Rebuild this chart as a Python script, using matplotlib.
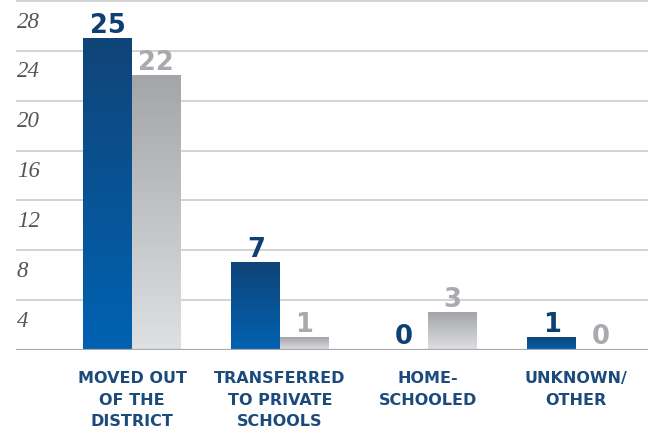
import numpy as np
import matplotlib
matplotlib.use('Agg')
import matplotlib.pyplot as plt
from matplotlib.colors import LinearSegmentedColormap
import matplotlib.transforms as mtrans

# datos
categorias = ['MOVED OUT\nOF THE\nDISTRICT', 'TRANSFERRED\nTO PRIVATE\nSCHOOLS',
              'HOME-\nSCHOOLED', 'UNKNOWN/\nOTHER']
serie_azul = [25, 7, 0, 1]
serie_gris = [22, 1, 3, 0]
ticks_y = [4, 8, 12, 16, 20, 24, 28]

fig = plt.figure(figsize=(6.55, 4.30), dpi=100)
ax = fig.add_axes([16/655, 80/430, (648-16)/655, 350/430])

x = np.arange(len(categorias))
ancho = 0.328

cmap_azul = LinearSegmentedColormap.from_list('azul', ['#0062b2', '#104478'])
cmap_gris = LinearSegmentedColormap.from_list('gris', ['#dfe0e2', '#a4a5a9'])

barras_a = ax.bar(x - ancho/2, serie_azul, ancho, color='none', zorder=2)
barras_g = ax.bar(x + ancho/2, serie_gris, ancho, color='none', zorder=2)

grad = np.linspace(0, 1, 256).reshape(-1, 1)
for barras, cm in [(barras_a, cmap_azul), (barras_g, cmap_gris)]:
    for b in barras:
        h = b.get_height()
        if h <= 0:
            continue
        ax.imshow(grad, cmap=cm, origin='lower', aspect='auto', zorder=2,
                  extent=[b.get_x(), b.get_x() + b.get_width(), 0, h])

# etiquetas de valor
for barras, vals, col in [(barras_a, serie_azul, '#0e3f73'), (barras_g, serie_gris, '#a9aaae')]:
    for b, v in zip(barras, vals):
        ax.annotate(str(v), (b.get_x() + b.get_width()/2, v), xytext=(0, 4),
                    textcoords='offset points', ha='center', va='baseline',
                    fontsize=18.5, fontweight='bold', color=col, family='DejaVu Sans')

ax.set_xlim(-116/148, (648-132)/148)
ax.set_ylim(0, 350/12.46)
ax.set_yticks(ticks_y)
ax.yaxis.grid(True, color='#c8c8c8', lw=1.1, zorder=0)
ax.set_axisbelow(True)
ax.tick_params(length=0, labelleft=False, labelbottom=False)
for s in ax.spines.values():
    s.set_visible(False)
ax.axhline(0, color='#a9a9ac', lw=2.3, zorder=4)

# etiquetas del eje y, debajo de cada linea
trans_y = mtrans.blended_transform_factory(ax.transAxes, ax.transData)
off = mtrans.ScaledTranslation(1/100, -21/100, fig.dpi_scale_trans)
for t in ticks_y:
    ax.text(0, t, str(t), transform=trans_y + off, ha='left', va='center',
            fontsize=16.5, style='italic', color='#555555', family='Liberation Serif')

# categorias
trans_x = mtrans.blended_transform_factory(ax.transData, ax.transAxes)
off2 = mtrans.ScaledTranslation(0, -21/100, fig.dpi_scale_trans)
for i, c in enumerate(categorias):
    ax.text(i, 0, c, transform=trans_x + off2, ha='center', va='top', fontsize=11.5,
            fontweight='bold', color='#1b4a7c', linespacing=1.55, family='DejaVu Sans')

plt.savefig('out.png', dpi=100)
